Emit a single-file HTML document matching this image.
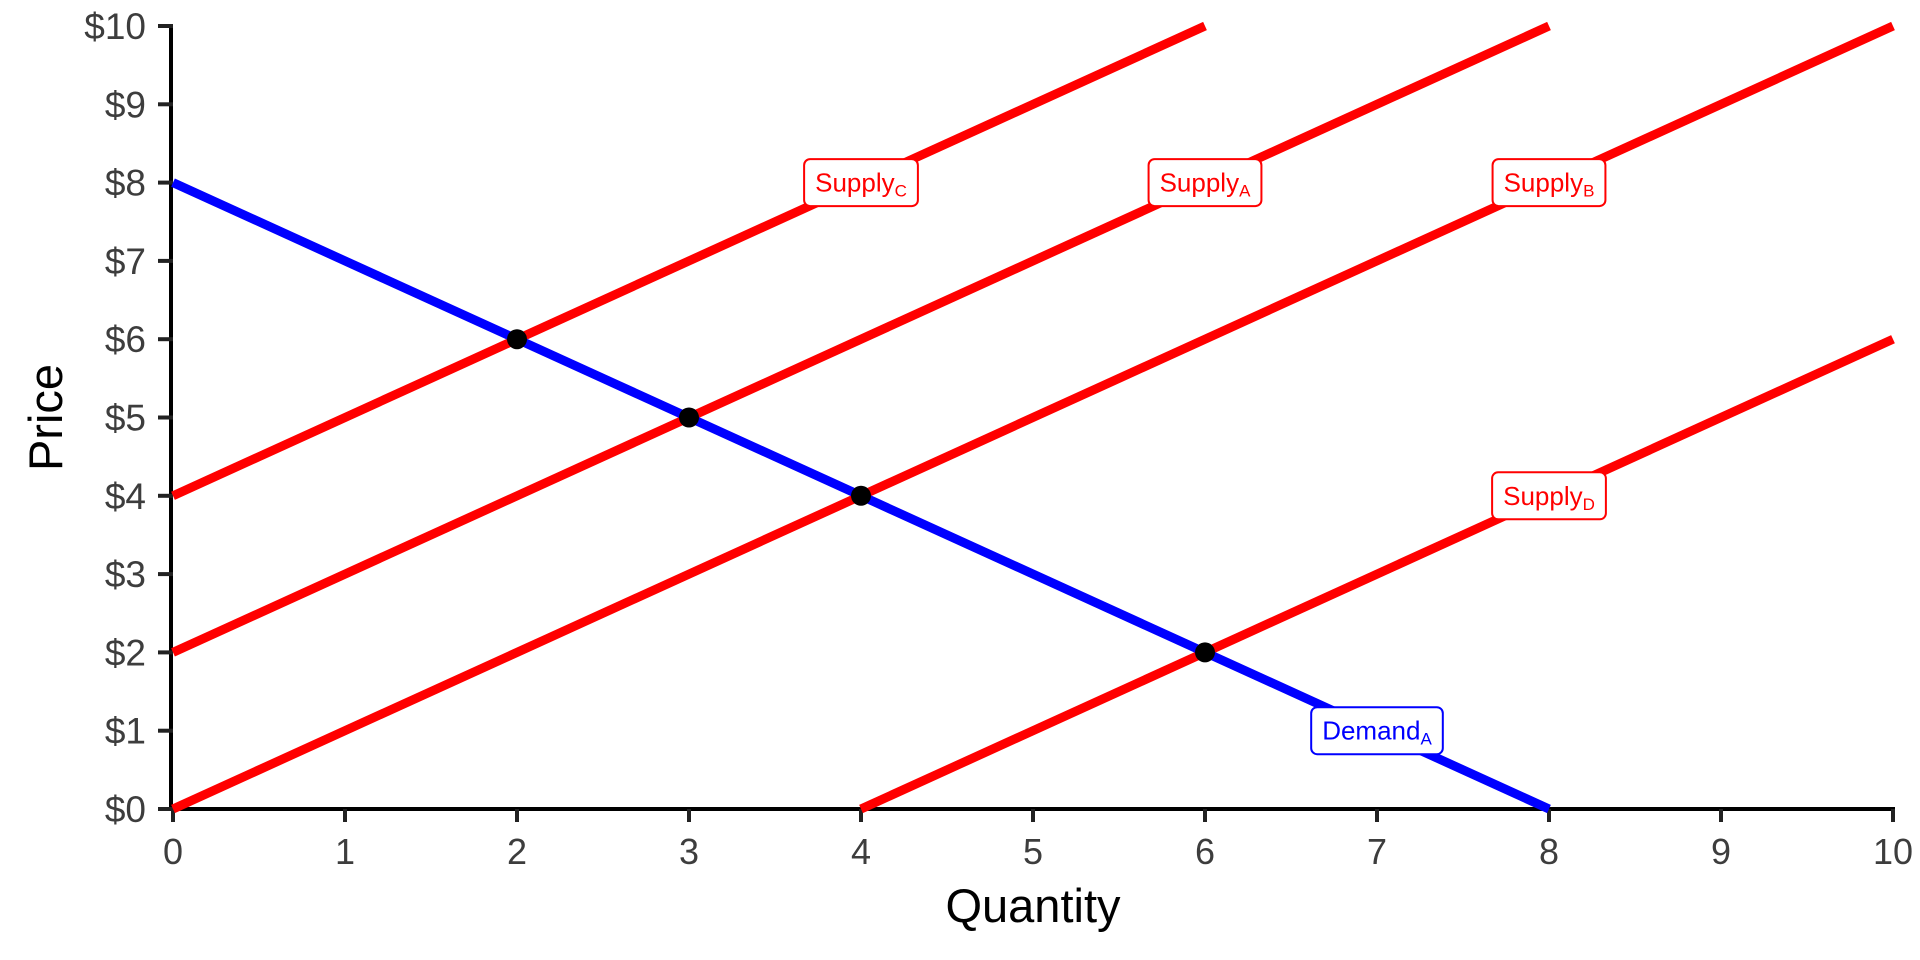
<!DOCTYPE html>
<html><head><meta charset="utf-8"><style>
html,body{margin:0;padding:0;background:#fff;width:1920px;height:960px;overflow:hidden}
text{font-family:"Liberation Sans",sans-serif}
</style></head><body>
<svg id="chart" width="1920" height="960" xmlns="http://www.w3.org/2000/svg"></svg>
<script>
const xTicks=[0,1,2,3,4,5,6,7,8,9,10];
const yTicks=[0,1,2,3,4,5,6,7,8,9,10];
const yTickLabels=["$0","$1","$2","$3","$4","$5","$6","$7","$8","$9","$10"];
const supplyNames=["supply-c","supply-a","supply-b","supply-d"];
const supplyStart=[[0,4],[0,2],[0,0],[4,0]];
const supplyEnd=[[6,10],[8,10],[10,10],[10,6]];
const supplyLabelMain=["Supply","Supply","Supply","Supply"];
const supplyLabelSub=["C","A","B","D"];
const supplyLabelPos=[[4,8],[6,8],[8,8],[8,4]];
const demandStart=[0,8];
const demandEnd=[8,0];
const demandLabelPos=[7,1];
const eqQ=[2,3,4,6];
const eqP=[6,5,4,2];

const NS="http://www.w3.org/2000/svg";
const svg=document.getElementById('chart');
const X0=173,X1=1893,Y0=809,Y1=26;
const sx=v=>X0+(X1-X0)*v/10;
const sy=v=>Y0-(Y0-Y1)*v/10;
function mk(tag,attrs,parent){const e=document.createElementNS(NS,tag);for(const k in attrs)e.setAttribute(k,attrs[k]);(parent||svg).appendChild(e);return e;}

let ax=mk('line',{x1:X0-2,y1:Y1,x2:X0-2,y2:Y0+2,stroke:'#000','stroke-width':4});


ax=mk('line',{x1:X0-4,y1:Y0,x2:X1+2,y2:Y0,stroke:'#000','stroke-width':4});


xTicks.forEach(v=>{
  const t=mk('line',{x1:sx(v),y1:Y0,x2:sx(v),y2:Y0+13,stroke:'#222','stroke-width':4});
  
  
  const l=mk('text',{x:sx(v),y:Y0+55,'text-anchor':'middle','font-size':36,fill:'#3d3d3d'});
  l.textContent=v;
  
  
});
yTicks.forEach((v,i)=>{
  const t=mk('line',{x1:X0-15,y1:sy(v),x2:X0,y2:sy(v),stroke:'#222','stroke-width':4});
  
  
  const l=mk('text',{x:X0-27,y:sy(v)+13,'text-anchor':'end','font-size':37,fill:'#3d3d3d'});
  l.textContent=yTickLabels[i];
  
  
});
let at=mk('text',{x:(X0+X1)/2,y:922,'text-anchor':'middle','font-size':47,fill:'#000'});
at.textContent='Quantity';


at=mk('text',{x:0,y:0,'text-anchor':'middle','font-size':47,fill:'#000',transform:`translate(62,${(Y0+Y1)/2}) rotate(-90)`});
at.textContent='Price';



supplyStart.forEach((s,i)=>{
  const e=supplyEnd[i];
  const ln=mk('line',{x1:sx(s[0]),y1:sy(s[1]),x2:sx(e[0]),y2:sy(e[1]),stroke:'#ff0000','stroke-width':9});
  
  
});
const dl=mk('line',{x1:sx(demandStart[0]),y1:sy(demandStart[1]),x2:sx(demandEnd[0]),y2:sy(demandEnd[1]),stroke:'#0000ff','stroke-width':9});



function label(q,p,main,sub,color,name){
  const g=mk('g',{});
  
  
  const cx=sx(q),cy=sy(p),h=47;
  const rect=mk('rect',{fill:'#fff',stroke:color,'stroke-width':2,rx:6},g);
  const t=mk('text',{x:0,y:cy+9,'font-size':26,fill:color},g);
  t.textContent=main;
  const s=mk('tspan',{'font-size':17,dy:5},t);
  s.textContent=sub;
  const tw=t.getComputedTextLength();
  const w=tw+22;
  t.setAttribute('x',cx-tw/2);
  rect.setAttribute('x',cx-w/2);rect.setAttribute('y',cy-h/2);
  rect.setAttribute('width',w);rect.setAttribute('height',h);
}
supplyLabelPos.forEach((p,i)=>label(p[0],p[1],supplyLabelMain[i],supplyLabelSub[i],'#ff0000',supplyNames[i]+'-label'));
label(demandLabelPos[0],demandLabelPos[1],'Demand','A','#0000ff','demand-a-label');

eqQ.forEach((q,i)=>{
  const c=mk('circle',{cx:sx(q),cy:sy(eqP[i]),r:10,fill:'#000'});
  
  
});
</script>
</body></html>
